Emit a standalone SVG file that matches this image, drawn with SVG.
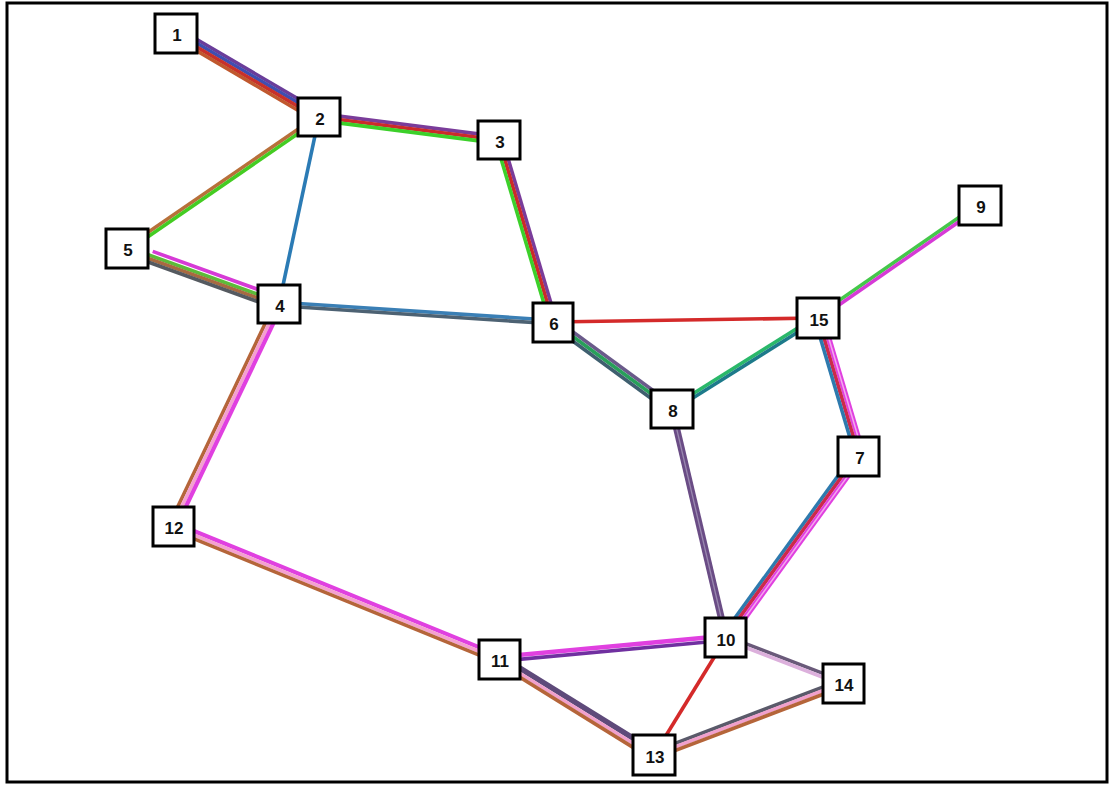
<svg xmlns="http://www.w3.org/2000/svg" width="1113" height="785" viewBox="0 0 1113 785">
<style>
.s{stroke-width:3.6;stroke-linecap:butt;fill:none}
.node rect{fill:#fff;stroke:#000;stroke-width:3}
.node text{font-family:"Liberation Sans",Arial,sans-serif;font-weight:bold;font-size:17px;fill:#111;text-anchor:middle;dominant-baseline:central}
</style>
<rect x="0" y="0" width="1113" height="785" fill="#fff"/>
<rect x="7" y="3" width="1100" height="779" fill="#fff" stroke="#000" stroke-width="3"/>
<g id="connectors">
  <!-- 1-2 -->
  <g transform="translate(176,33) rotate(30.43)">
    <line class="s" x1="0" y1="-5" x2="165.8" y2="-5" stroke="#6a3d9a"/>
    <line class="s" x1="0" y1="-1.7" x2="165.8" y2="-1.7" stroke="#3f4eb0"/>
    <line class="s" x1="0" y1="1.6" x2="165.8" y2="1.6" stroke="#c8302a"/>
    <line class="s" x1="0" y1="4.9" x2="165.8" y2="4.9" stroke="#c0582e"/>
  </g>
  <!-- 2-3 -->
  <g transform="translate(319,117) rotate(7.28)">
    <line class="s" x1="0" y1="-3.4" x2="181.5" y2="-3.4" stroke="#7a3c9a"/>
    <line class="s" x1="0" y1="0" x2="181.5" y2="0" stroke="#cc2a2a"/>
    <line class="s" x1="0" y1="3.4" x2="181.5" y2="3.4" stroke="#3cd02a"/>
  </g>
  <!-- 3-6 -->
  <g transform="translate(499,140) rotate(73.47)">
    <line class="s" x1="0" y1="-3.4" x2="189.8" y2="-3.4" stroke="#7a3c9a"/>
    <line class="s" x1="0" y1="0" x2="189.8" y2="0" stroke="#cc2a2a"/>
    <line class="s" x1="0" y1="3.4" x2="189.8" y2="3.4" stroke="#3cd02a"/>
  </g>
  <!-- 5-2 -->
  <g transform="translate(127,249) rotate(-34.5)">
    <line class="s" x1="0" y1="-1.8" x2="233" y2="-1.8" stroke="#b8703a"/>
    <line class="s" x1="0" y1="1.8" x2="233" y2="1.8" stroke="#44cc22"/>
  </g>
  <!-- 4-2 -->
  <g transform="translate(279,304) rotate(-77.93)">
    <line class="s" x1="0" y1="0" x2="191.2" y2="0" stroke="#2b7bb5"/>
  </g>
  <!-- 5-4 -->
  <g transform="translate(127,249) rotate(19.89)">
    <line class="s" x1="25" y1="-6.5" x2="161.6" y2="-6.5" stroke="#d63ad6"/>
    <line class="s" x1="0" y1="-1.8" x2="161.6" y2="-1.8" stroke="#5cbb3a"/>
    <line class="s" x1="0" y1="1.6" x2="161.6" y2="1.6" stroke="#a86a40"/>
    <line class="s" x1="0" y1="5" x2="161.6" y2="5" stroke="#555a60"/>
  </g>
  <!-- 4-6 -->
  <g transform="translate(279,304) rotate(3.76)">
    <line class="s" x1="0" y1="-1.8" x2="274.6" y2="-1.8" stroke="#3a7fb5"/>
    <line class="s" x1="0" y1="1.8" x2="274.6" y2="1.8" stroke="#4d6273"/>
  </g>
  <!-- 6-15 -->
  <g transform="translate(553,322) rotate(-0.87)">
    <line class="s" x1="0" y1="0" x2="264" y2="0" stroke="#d42a2a"/>
  </g>
  <!-- 6-8 -->
  <g transform="translate(553,322) rotate(36.17)">
    <line class="s" x1="0" y1="-3.8" x2="147.4" y2="-3.8" stroke="#6a5a8a"/>
    <line class="s" x1="0" y1="0" x2="147.4" y2="0" stroke="#28a05a"/>
    <line class="s" x1="0" y1="3.8" x2="147.4" y2="3.8" stroke="#3f5f6f"/>
  </g>
  <!-- 8-15 -->
  <g transform="translate(672,409) rotate(-32.11)">
    <line class="s" x1="0" y1="-1.8" x2="171.2" y2="-1.8" stroke="#2ab86a"/>
    <line class="s" x1="0" y1="1.8" x2="171.2" y2="1.8" stroke="#1d7a8a"/>
  </g>
  <!-- 15-9 -->
  <g transform="translate(817,318) rotate(-34.73)">
    <line class="s" x1="0" y1="-1.8" x2="198.3" y2="-1.8" stroke="#44c84a"/>
    <line class="s" x1="0" y1="1.8" x2="198.3" y2="1.8" stroke="#d63ad6"/>
  </g>
  <!-- 15-7 -->
  <g transform="translate(817,318) rotate(73.45)">
    <line x1="0" y1="-5.5" x2="144" y2="-5.5" stroke="#e040e0" stroke-width="5.5"/>
    <line x1="0" y1="-5.5" x2="144" y2="-5.5" stroke="#f4a8ee" stroke-width="1.5"/>
    <line class="s" x1="0" y1="-1" x2="144" y2="-1" stroke="#cc2a4a"/>
    <line class="s" x1="0" y1="2.5" x2="144" y2="2.5" stroke="#2e7aae"/>
  </g>
  <!-- 8-10 -->
  <g transform="translate(672,409) rotate(76.73)">
    <line x1="0" y1="0" x2="235.3" y2="0" stroke="#6a4c85" stroke-width="7"/>
    <line x1="0" y1="0" x2="235.3" y2="0" stroke="#9a88b0" stroke-width="1.3"/>
  </g>
  <!-- 10-7 -->
  <g transform="translate(726,638) rotate(-54.05)">
    <line class="s" x1="0" y1="-4.5" x2="224.8" y2="-4.5" stroke="#2e7aae"/>
    <line class="s" x1="0" y1="-1" x2="224.8" y2="-1" stroke="#cc2a4a"/>
    <line x1="0" y1="3.5" x2="224.8" y2="3.5" stroke="#e040e0" stroke-width="5.5"/>
    <line x1="0" y1="3.5" x2="224.8" y2="3.5" stroke="#f4a8ee" stroke-width="1.5"/>
  </g>
  <!-- 12-4 -->
  <g transform="translate(173,526) rotate(-64.48)">
    <line class="s" x1="0" y1="-4" x2="246" y2="-4" stroke="#b5653a"/>
    <line x1="0" y1="-0.5" x2="246" y2="-0.5" stroke="#f4a0d0" stroke-width="3.5"/>
    <line x1="0" y1="3.3" x2="246" y2="3.3" stroke="#e040e0" stroke-width="4.2"/>
  </g>
  <!-- 12-11 -->
  <g transform="translate(173,526) rotate(22.19)">
    <line x1="0" y1="-3.3" x2="352.1" y2="-3.3" stroke="#e040e0" stroke-width="4.2"/>
    <line x1="0" y1="0.5" x2="352.1" y2="0.5" stroke="#f4a0d0" stroke-width="3.5"/>
    <line class="s" x1="0" y1="4" x2="352.1" y2="4" stroke="#b5653a"/>
  </g>
  <!-- 11-10 -->
  <g transform="translate(499,659) rotate(-5.29)">
    <line x1="0" y1="-2.2" x2="228" y2="-2.2" stroke="#e040e0" stroke-width="4.5"/>
    <line class="s" x1="0" y1="2.2" x2="228" y2="2.2" stroke="#7030a0"/>
  </g>
  <!-- 10-14 -->
  <g transform="translate(726,638) rotate(21.04)">
    <line class="s" x1="0" y1="-1.8" x2="125.4" y2="-1.8" stroke="#6a5a7a"/>
    <line class="s" x1="0" y1="1.8" x2="125.4" y2="1.8" stroke="#dcb0dc"/>
  </g>
  <!-- 13-10 -->
  <g transform="translate(654,755) rotate(-58.39)">
    <line class="s" x1="0" y1="0" x2="137.4" y2="0" stroke="#d42a2a"/>
  </g>
  <!-- 11-13 -->
  <g transform="translate(499,659) rotate(31.77)">
    <line x1="0" y1="-3.3" x2="182.3" y2="-3.3" stroke="#5e4a7a" stroke-width="5.5"/>
    <line x1="0" y1="1.2" x2="182.3" y2="1.2" stroke="#f0a0cc" stroke-width="3.5"/>
    <line class="s" x1="0" y1="4.6" x2="182.3" y2="4.6" stroke="#b5653a"/>
  </g>
  <!-- 13-14 -->
  <g transform="translate(654,755) rotate(-20.85)">
    <line class="s" x1="0" y1="-3.4" x2="202.2" y2="-3.4" stroke="#5a5a6a"/>
    <line class="s" x1="0" y1="0" x2="202.2" y2="0" stroke="#f0a0cc"/>
    <line class="s" x1="0" y1="3.4" x2="202.2" y2="3.4" stroke="#b5653a"/>
  </g>
</g>
<g id="node1" class="node"><rect x="155" y="14" width="42" height="39"/><text x="177" y="35">1</text></g>
<g id="node2" class="node"><rect x="298" y="98" width="42" height="38"/><text x="320" y="119">2</text></g>
<g id="node3" class="node"><rect x="478" y="121" width="42" height="38"/><text x="500" y="142">3</text></g>
<g id="node4" class="node"><rect x="258" y="285" width="42" height="38"/><text x="280" y="306">4</text></g>
<g id="node5" class="node"><rect x="106" y="229" width="42" height="39"/><text x="128" y="250">5</text></g>
<g id="node6" class="node"><rect x="533" y="303" width="40" height="39"/><text x="554" y="324">6</text></g>
<g id="node7" class="node"><rect x="838" y="437" width="41" height="39"/><text x="860" y="458">7</text></g>
<g id="node8" class="node"><rect x="651" y="390" width="42" height="38"/><text x="673" y="411">8</text></g>
<g id="node9" class="node"><rect x="959" y="186" width="42" height="39"/><text x="981" y="207">9</text></g>
<g id="node10" class="node"><rect x="705" y="618" width="41" height="39"/><text x="726" y="640">10</text></g>
<g id="node11" class="node"><rect x="479" y="640" width="41" height="39"/><text x="500" y="661">11</text></g>
<g id="node12" class="node"><rect x="153" y="507" width="41" height="39"/><text x="174" y="528">12</text></g>
<g id="node13" class="node"><rect x="633" y="735" width="42" height="40"/><text x="655" y="757">13</text></g>
<g id="node14" class="node"><rect x="823" y="664" width="41" height="39"/><text x="844" y="685">14</text></g>
<g id="node15" class="node"><rect x="797" y="298" width="42" height="40"/><text x="819" y="320">15</text></g>
</svg>
